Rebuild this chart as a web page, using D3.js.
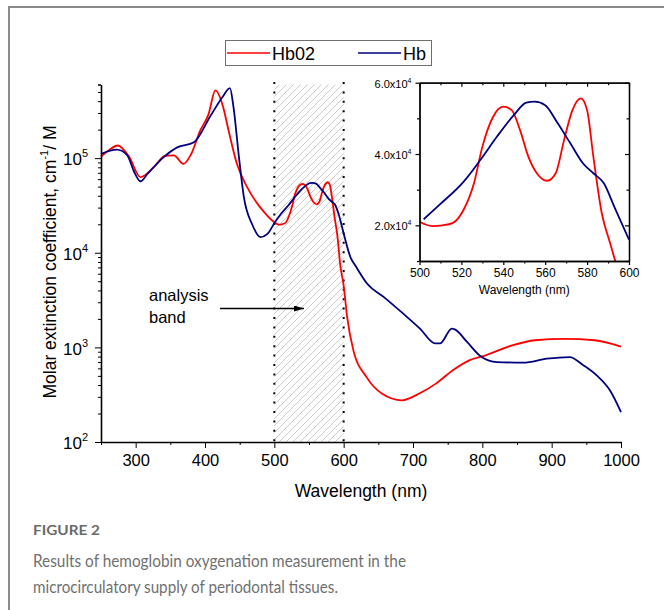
<!DOCTYPE html>
<html>
<head>
<meta charset="utf-8">
<script src="https://cdn.jsdelivr.net/npm/d3@7"></script>
<style>
  body { margin: 0; background: #fff; }
  svg { display: block; }
  .ax text { font-family: "Liberation Sans", Arial, sans-serif; fill: #000; }
  .ax path, .ax line { stroke: #000; }
</style>
</head>
<body>
<svg id="chart" width="664" height="610"></svg>
<script>
// HbO2 (oxy) – wavelength (nm) and molar extinction (cm-1/M)
const hbo2Wl = [250, 262, 274, 290, 307, 326, 343, 355, 369, 380, 393, 405, 415, 426, 434, 446, 461, 485, 500,
  506, 511, 516, 521, 526, 530, 535, 540, 544, 548, 552, 556, 561, 565, 569, 573, 577, 580, 583, 587, 591,
  595, 600, 605, 614, 633, 655, 684, 709, 733, 757, 781, 805, 843, 876, 919, 962, 1000]
const hbo2Val = [1.04e5, 1.22e5, 1.36e5, 1.05e5, 6.3e4, 8.0e4, 1.06e5, 1.07e5, 8.7e4, 1.1e5, 1.95e5, 2.9e5, 5.2e5, 3.5e5, 1.96e5, 8.7e4, 4.9e4, 2.7e4, 2.1e4,
  1.98e4, 2.0e4, 2.07e4, 2.43e4, 3.18e4, 4.2e4, 5.03e4, 5.33e4, 5.23e4, 4.67e4, 3.92e4, 3.46e4, 3.25e4, 3.46e4, 4.39e4, 5.23e4, 5.56e4, 5.23e4, 3.92e4, 2.34e4, 1.5e4,
  7.5e3, 4.5e3, 2.1e3, 930, 485, 325, 276, 325, 414, 571, 730, 824, 1050, 1190, 1230, 1190, 1020]

// Hb (deoxy)
const hbWl = [250, 273, 288, 297, 307, 317, 340, 360, 384, 408, 425, 436, 441, 449, 456, 468, 480, 490,
  502, 510, 521, 529, 537, 545, 551, 555, 560, 566, 572, 578, 583, 588, 593, 600,
  610, 617, 634, 658, 686, 710, 732, 739, 756, 761, 778, 799, 821, 859, 893, 926, 946, 965, 984, 1000]
const hbVal = [1.11e5, 1.23e5, 1.07e5, 7.4e4, 5.7e4, 6.8e4, 1.02e5, 1.3e5, 1.47e5, 2.8e5, 4.4e5, 5.5e5, 3.5e5, 1.02e5, 3.9e4, 2.0e4, 1.46e4, 1.58e4,
  2.17e4, 2.6e4, 3.22e4, 3.83e4, 4.49e4, 5.09e4, 5.44e4, 5.47e4, 5.37e4, 4.86e4, 4.3e4, 3.74e4, 3.46e4, 3.18e4, 2.52e4, 1.6e4,
  8.9e3, 7.3e3, 4.7e3, 3.4e3, 2.27e3, 1.58e3, 1.1e3, 1.1e3, 1.58e3, 1.54e3, 1.14e3, 790, 700, 690, 760, 790, 645, 505, 352, 207]

const seriesNames = ['Hb02', 'Hb']
const seriesColors = ['#ff0000', '#00007f']

const xTicks = [300, 400, 500, 600, 700, 800, 900, 1000]
const yTicks = [1e2, 1e3, 1e4, 1e5]
const bandRange = [500, 600]
const insetXTicks = [500, 520, 540, 560, 580, 600]
const insetYTicks = [2e4, 4e4, 6e4]

const series = [
  hbo2Wl.map((w, i) => ({ w, v: hbo2Val[i] })),
  hbWl.map((w, i) => ({ w, v: hbVal[i] }))
]

const svg = d3.select('#chart')
const font = '"Liberation Sans", Arial, sans-serif'

// page frame
svg.append('line').attr('x1', 8).attr('x2', 664).attr('y1', 7).attr('y2', 7)
  .attr('stroke', '#8a8a8a').attr('stroke-width', 2)
svg.append('line').attr('x1', 9).attr('x2', 9).attr('y1', 6).attr('y2', 610)
  .attr('stroke', '#8a8a8a').attr('stroke-width', 2)

const defs = svg.append('defs')
const hatch = defs.append('pattern').attr('id', 'hatch')
  .attr('patternUnits', 'userSpaceOnUse').attr('width', 7).attr('height', 7)
hatch.append('path').attr('d', 'M-1,1 l2,-2 M0,7 l7,-7 M6,8 l2,-2')
  .attr('stroke', '#c4c4c4').attr('stroke-width', 0.9)
defs.append('marker').attr('id', 'arrow').attr('viewBox', '0 0 10 6')
  .attr('refX', 10).attr('refY', 3).attr('markerWidth', 10).attr('markerHeight', 6)
  .attr('markerUnits', 'userSpaceOnUse').attr('orient', 'auto')
  .append('path').attr('d', 'M0,0 L10,3 L0,6 Z').attr('fill', '#000')

// ---- main chart ----
const x = d3.scaleLinear().domain([250, 1000]).range([101, 621])
const y = d3.scaleLog().domain([100, 6e5]).range([442, 84.5])

// analysis band
svg.append('rect')
  .attr('x', x(bandRange[0])).attr('width', x(bandRange[1]) - x(bandRange[0]))
  .attr('y', y(6e5)).attr('height', y(100) - y(6e5))
  .attr('fill', 'url(#hatch)')
svg.selectAll('line.band').data(bandRange).join('line').attr('class', 'band')
  .attr('x1', d => x(d)).attr('x2', d => x(d))
  .attr('y1', 82).attr('y2', y(100))
  .attr('stroke', '#000').attr('stroke-width', 2).attr('stroke-dasharray', '2,7.4')

const line = d3.line().x(d => x(d.w)).y(d => y(d.v)).curve(d3.curveMonotoneX)
svg.selectAll('path.main').data(series).join('path').attr('class', 'main')
  .attr('d', line).attr('fill', 'none')
  .attr('stroke', (d, i) => seriesColors[i]).attr('stroke-width', 1.8)

// x axis
const xMinor = d3.range(250, 1001, 50).filter(d => d % 100 !== 0)
svg.append('g').attr('class', 'ax').attr('transform', `translate(0,${y(100)})`)
  .call(d3.axisBottom(x).tickValues(xMinor).tickSize(3).tickFormat(''))
  .call(g => g.select('.domain').remove())
svg.append('g').attr('class', 'ax').attr('transform', `translate(0,${y(100)})`)
  .call(d3.axisBottom(x).tickValues(xTicks).tickFormat(d => d).tickSize(6).tickSizeOuter(0).tickPadding(6))
  .call(g => g.select('.domain').attr('stroke-width', 1.6))
  .call(g => g.selectAll('text').attr('font-size', 16.5))

// y axis
const yMinor = []
for (let e = 2; e <= 5; e++) for (let m = 2; m <= 9; m++) {
  const v = m * Math.pow(10, e)
  if (v <= 6e5) yMinor.push(v)
}
yMinor.push(6e5)
svg.append('g').attr('class', 'ax').attr('transform', `translate(${x(250)},0)`)
  .call(d3.axisLeft(y).tickValues(yMinor).tickSize(3).tickFormat(''))
  .call(g => g.select('.domain').remove())
svg.append('g').attr('class', 'ax').attr('transform', `translate(${x(250)},0)`)
  .call(d3.axisLeft(y).tickValues(yTicks).tickSize(6).tickSizeOuter(0).tickPadding(7).tickFormat(''))
  .call(g => g.select('.domain').attr('stroke-width', 1.6))
  .call(g => g.selectAll('.tick text').attr('font-size', 17).attr('dy', '0.4em')
    .each(function (d) {
      const t = d3.select(this)
      t.append('tspan').text('10')
      t.append('tspan').text(Math.round(Math.log10(d))).attr('font-size', 11).attr('dy', -8)
    }))

// axis titles
svg.append('text').attr('x', x(625)).attr('y', 497).attr('text-anchor', 'middle')
  .attr('font-family', font).attr('font-size', 17.5).text('Wavelength (nm)')
const yt = svg.append('text').attr('transform', 'translate(56,262) rotate(-90)')
  .attr('text-anchor', 'middle').attr('font-family', font).attr('font-size', 17.5)
yt.append('tspan').text('Molar extinction coefficient, cm')
yt.append('tspan').text('-1').attr('font-size', 11).attr('dy', -8)
yt.append('tspan').text('/ M').attr('dy', 8)

// annotation
const ann = svg.append('text').attr('font-family', font).attr('font-size', 16.5)
ann.append('tspan').attr('x', 149).attr('y', 301).text('analysis')
ann.append('tspan').attr('x', 149).attr('y', 323).text('band')
svg.append('line').attr('x1', 220).attr('x2', 304).attr('y1', 308.5).attr('y2', 308.5)
  .attr('stroke', '#000').attr('stroke-width', 1.3).attr('marker-end', 'url(#arrow)')

// legend
const lg = svg.append('g')
lg.append('rect').attr('x', 225.5).attr('y', 40.5).attr('width', 206).attr('height', 25)
  .attr('fill', '#fff').attr('stroke', '#6e6e6e').attr('stroke-width', 1)
const lgX = [227, 358]
seriesNames.forEach((name, i) => {
  lg.append('line').attr('x1', lgX[i]).attr('x2', lgX[i] + 43).attr('y1', 53).attr('y2', 53)
    .attr('stroke', seriesColors[i]).attr('stroke-width', 1.6)
  lg.append('text').attr('x', lgX[i] + 45).attr('y', 59.5).attr('font-family', font)
    .attr('font-size', 18).text(name)
})

// ---- inset ----
const ix = d3.scaleLinear().domain([500, 600]).range([419.5, 629])
const iy = d3.scaleLinear().domain([1e4, 6e4]).range([261, 82.7])

defs.append('clipPath').attr('id', 'insetClip').append('rect')
  .attr('x', ix(500)).attr('y', iy(6e4)).attr('width', ix(600) - ix(500)).attr('height', iy(1e4) - iy(6e4))
svg.append('rect').attr('x', ix(500)).attr('y', iy(6e4))
  .attr('width', ix(600) - ix(500)).attr('height', iy(1e4) - iy(6e4)).attr('fill', '#fff')

const iline = d3.line().x(d => ix(d.w)).y(d => iy(d.v)).curve(d3.curveMonotoneX)
svg.append('g').attr('clip-path', 'url(#insetClip)')
  .selectAll('path').data(series.map(s => s.filter(d => d.w >= 495 && d.w <= 606))).join('path')
  .attr('d', iline).attr('fill', 'none')
  .attr('stroke', (d, i) => seriesColors[i]).attr('stroke-width', 1.8)

const ixMinor = d3.range(510, 600, 20)
const iyMinor = [1e4, 3e4, 5e4]
const insetAxis = (axis, tx, ty, vals, size) =>
  svg.append('g').attr('class', 'ax').attr('transform', `translate(${tx},${ty})`)
    .call(axis.tickValues(vals).tickSize(size).tickSizeOuter(0))
    .call(g => g.select('.domain').attr('stroke-width', 1.3))
    .call(g => g.selectAll('.tick line').attr('stroke-width', 1.2))

// bottom (outward) with labels
insetAxis(d3.axisBottom(ix).tickFormat(d => d).tickPadding(3), 0, iy(1e4), insetXTicks, 4)
  .call(g => g.selectAll('text').attr('font-size', 12))
insetAxis(d3.axisBottom(ix).tickFormat(''), 0, iy(1e4), ixMinor, 2.5)
// top (inward)
insetAxis(d3.axisBottom(ix).tickFormat(''), 0, iy(6e4), insetXTicks, 4)
insetAxis(d3.axisBottom(ix).tickFormat(''), 0, iy(6e4), ixMinor, 2.5)
// left (outward) with labels
insetAxis(d3.axisLeft(iy).tickFormat('').tickPadding(4), ix(500), 0, insetYTicks, 4)
  .call(g => g.selectAll('.tick text').attr('font-size', 11).attr('dy', '0.4em')
    .each(function (d) {
      const t = d3.select(this)
      t.append('tspan').text((d / 1e4).toFixed(1) + 'x10')
      t.append('tspan').text('4').attr('font-size', 7).attr('dy', -5)
    }))
insetAxis(d3.axisLeft(iy).tickFormat(''), ix(500), 0, iyMinor, 2.5)
// right (inward)
insetAxis(d3.axisLeft(iy).tickFormat(''), ix(600), 0, insetYTicks, 4)
insetAxis(d3.axisLeft(iy).tickFormat(''), ix(600), 0, iyMinor, 2.5)

svg.append('text').attr('x', (ix(500) + ix(600)) / 2).attr('y', 294).attr('text-anchor', 'middle')
  .attr('font-family', font).attr('font-size', 12).text('Wavelength (nm)')

// ---- caption ----
const cap = 'Lato, "Open Sans", sans-serif'
svg.append('text').attr('x', 33).attr('y', 535).attr('font-family', cap)
  .attr('font-size', 14).attr('font-weight', 700).attr('fill', '#6a6a6a')
  .attr('textLength', 67).attr('lengthAdjust', 'spacingAndGlyphs').text('FIGURE 2')
svg.append('text').attr('x', 33).attr('y', 567).attr('font-family', cap)
  .attr('font-size', 18).attr('fill', '#707070')
  .attr('textLength', 373).attr('lengthAdjust', 'spacingAndGlyphs')
  .text('Results of hemoglobin oxygenation measurement in the')
svg.append('text').attr('x', 33).attr('y', 593).attr('font-family', cap)
  .attr('font-size', 18).attr('fill', '#707070')
  .attr('textLength', 305).attr('lengthAdjust', 'spacingAndGlyphs')
  .text('microcirculatory supply of periodontal tissues.')
</script>
</body>
</html>
